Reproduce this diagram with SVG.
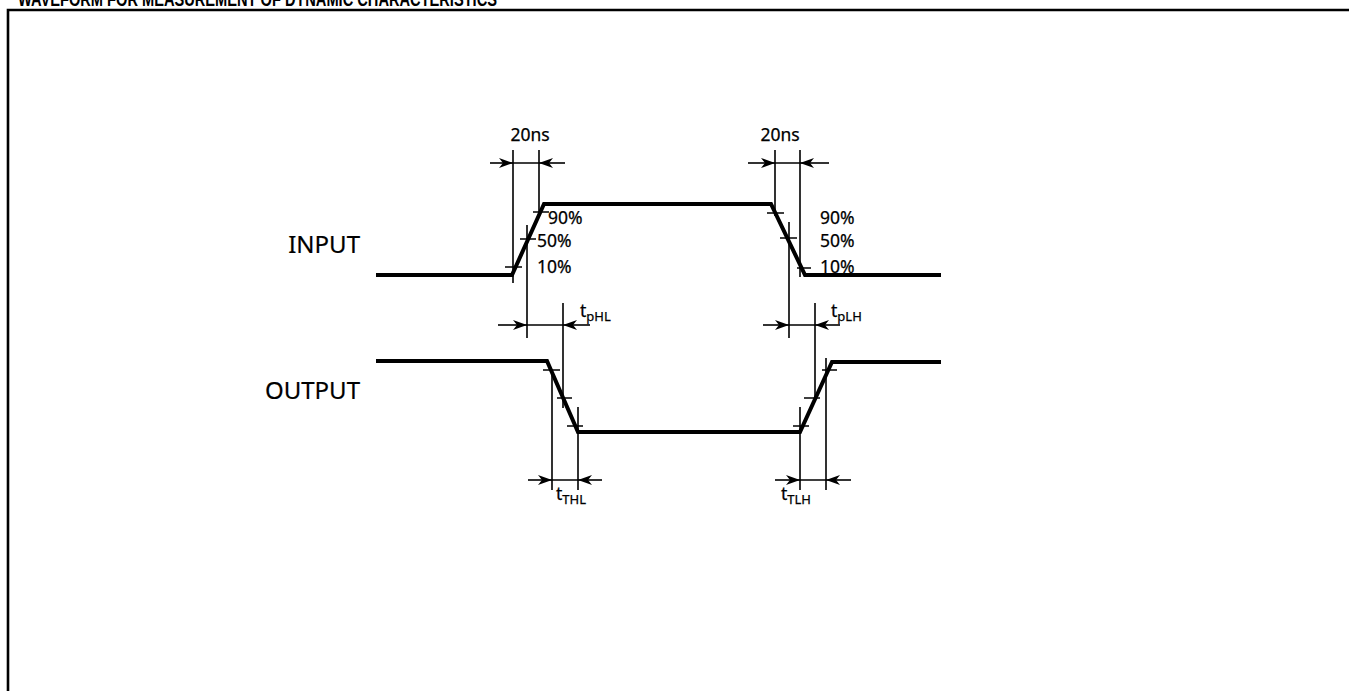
<svg xmlns="http://www.w3.org/2000/svg" width="1349" height="691" viewBox="0 0 1349 691">
<defs>
<style>
.wave{fill:none;stroke:#000;stroke-width:4;stroke-linejoin:miter}
.thin{fill:none;stroke:#000;stroke-width:1.6}
.lbl{font-family:"Noto Sans","Open Sans","DejaVu Sans",sans-serif;font-size:17.5px;fill:#000;stroke:#000;stroke-width:0.25}
.big{font-family:"Noto Sans","Open Sans","DejaVu Sans",sans-serif;font-size:24px;fill:#000;stroke:#000;stroke-width:0.2}
.sub{font-size:13px}
.title{font-family:"Liberation Sans",Arial,sans-serif;font-weight:bold;font-size:20px;fill:#000}
</style>
<marker id="ah" viewBox="0 0 14 10" refX="14" refY="5" markerWidth="14" markerHeight="10" markerUnits="userSpaceOnUse" orient="auto">
<path d="M0,0 L14,5 L0,10 L4,5 z" fill="#000"/>
</marker>
</defs>
<rect width="1349" height="691" fill="#fff"/>
<g id="title"><text class="title" x="18" y="6" textLength="479" lengthAdjust="spacingAndGlyphs">WAVEFORM FOR MEASUREMENT OF DYNAMIC CHARACTERISTICS</text></g>
<g id="frame"><path d="M8,700 V10 H1360" fill="none" stroke="#000" stroke-width="2.6"/></g>
<g id="input">
<text class="big" x="360" y="253" text-anchor="end">INPUT</text>
<path class="wave" d="M376,275 H512 L544,204 H771 L805,275 H941"/>
<path class="thin" d="M505,267 H522 M520,239 H536 M533,212 H549 M767,213 H784 M780,238 H797 M797,268 H811"/>
<text class="lbl" x="548" y="224">90%</text>
<text class="lbl" x="537" y="247">50%</text>
<text class="lbl" x="537" y="273">10%</text>
<text class="lbl" x="820" y="224">90%</text>
<text class="lbl" x="820" y="247">50%</text>
<text class="lbl" x="820" y="273">10%</text>
</g>
<g id="output">
<text class="big" x="360" y="399" text-anchor="end">OUTPUT</text>
<path class="wave" d="M376,361 H547 L578,432 H800 L832,362 H941"/>
<path class="thin" d="M543,370 H560 M557,398 H572 M567,426 H583 M793,426 H809 M804,398 H820 M822,370 H837"/>
</g>
<g id="connectors">
<path class="thin" d="M513,150 V283 M539,150 V216 M527,225 V338 M775,150 V216 M800,150 V277 M789,222 V338"/>
<path class="thin" d="M563,303 V408 M815,303 V400 M552,375 V490 M578,407 V490 M800,407 V490 M826,358 V490"/>
<path class="thin" d="M513,163 H539 M775,163 H800 M526,325 H563 M789,325 H815 M552,480 H578 M800,480 H826"/>
<path class="thin" marker-end="url(#ah)" d="M490,163 H513"/>
<path class="thin" marker-end="url(#ah)" d="M565,163 H539"/>
<path class="thin" marker-end="url(#ah)" d="M748,163 H775"/>
<path class="thin" marker-end="url(#ah)" d="M829,163 H800"/>
<path class="thin" marker-end="url(#ah)" d="M498,325 H527"/>
<path class="thin" marker-end="url(#ah)" d="M590,325 H563"/>
<path class="thin" marker-end="url(#ah)" d="M763,325 H789"/>
<path class="thin" marker-end="url(#ah)" d="M840,325 H815"/>
<path class="thin" marker-end="url(#ah)" d="M528,480 H552"/>
<path class="thin" marker-end="url(#ah)" d="M602,480 H578"/>
<path class="thin" marker-end="url(#ah)" d="M775,480 H800"/>
<path class="thin" marker-end="url(#ah)" d="M851,480 H826"/>
</g>
<g id="dim-labels">
<text class="lbl" x="530" y="141" text-anchor="middle">20ns</text>
<text class="lbl" x="780" y="141" text-anchor="middle">20ns</text>
<text class="lbl" x="580" y="317">t<tspan class="sub" dy="4">pHL</tspan></text>
<text class="lbl" x="831" y="317">t<tspan class="sub" dy="4">pLH</tspan></text>
<text class="lbl" x="556" y="500">t<tspan class="sub" dy="4">THL</tspan></text>
<text class="lbl" x="781" y="500">t<tspan class="sub" dy="4">TLH</tspan></text>
</g>
</svg>
